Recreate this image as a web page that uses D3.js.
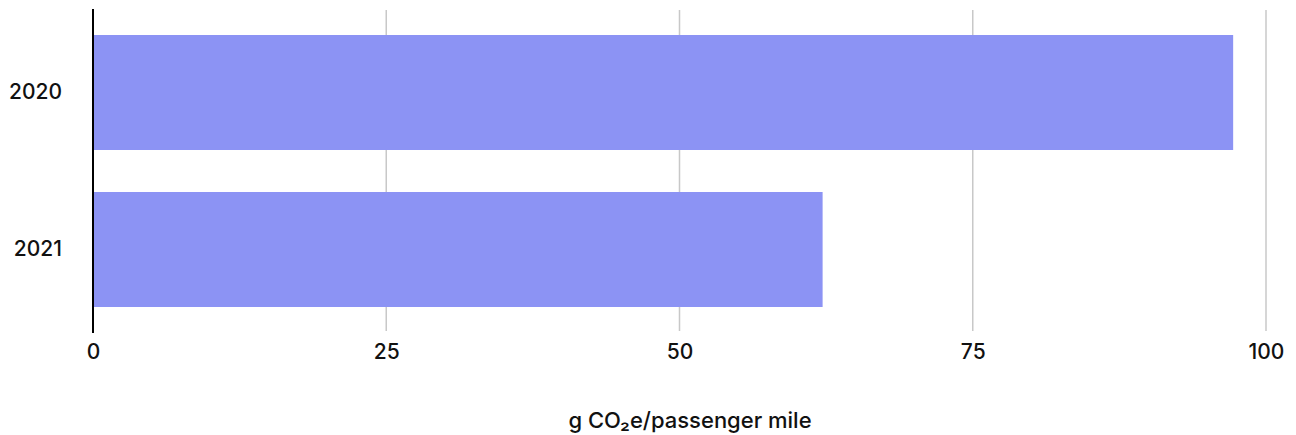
<!DOCTYPE html>
<html>
<head>
<meta charset="utf-8">
<script src="https://cdn.jsdelivr.net/npm/d3@7"></script>
<style>
  html, body { margin: 0; padding: 0; background: #fff; }
  svg { display: block; }
  text { font-family: Inter, "Noto Sans", sans-serif; fill: #111; font-weight: 500; }
</style>
</head>
<body>
<svg id="chart" width="1296" height="435"></svg>
<script>
// Emissions intensity per year
const years = ["2020", "2021"];
const emissions = [97.2, 62.2];
const xTicks = [0, 25, 50, 75, 100];
const axisTitle = "g CO₂e/passenger mile";

const width = 1296, height = 435;
const svg = d3.select("#chart");

const x = d3.scaleLinear().domain([0, 100]).range([93, 1266]);
const y = d3.scaleBand()
  .domain(years)
  .range([14, 328])
  .paddingInner(0.2675)
  .paddingOuter(0.13375);

// vertical gridlines
svg.append("g")
  .selectAll("line")
  .data(xTicks.filter(d => d > 0))
  .join("line")
  .attr("x1", d => x(d)).attr("x2", d => x(d))
  .attr("y1", 10).attr("y2", 331)
  .attr("stroke", "#c8c8c8")
  .attr("stroke-width", 1.5);

// bars
svg.append("g")
  .selectAll("rect")
  .data(years.map((yr, i) => ({ yr, v: emissions[i] })))
  .join("rect")
  .attr("x", x(0))
  .attr("y", d => y(d.yr))
  .attr("width", d => x(d.v) - x(0))
  .attr("height", y.bandwidth())
  .attr("fill", "#8c93f4");

// baseline
svg.append("line")
  .attr("x1", x(0)).attr("x2", x(0))
  .attr("y1", 9).attr("y2", 333)
  .attr("stroke", "#000")
  .attr("stroke-width", 2);

// x tick labels
const xAxis = d3.axisBottom(x).tickValues(xTicks).tickSize(0).tickPadding(0);
const gx = svg.append("g").attr("transform", "translate(0,352)").call(xAxis);
gx.select(".domain").remove();
gx.selectAll("text")
  .attr("dy", "0.35em")
  .attr("y", 0)
  .style("font-size", "21px")
  .style("font-weight", "500")
  .style("font-family", "Inter, 'Noto Sans', sans-serif")
  .attr("fill", "#111");

// y category labels
const yAxis = d3.axisLeft(y).tickSize(0).tickPadding(0);
const gy = svg.append("g").attr("transform", "translate(62,0)").call(yAxis);
gy.select(".domain").remove();
gy.selectAll("text")
  .style("font-size", "21px")
  .style("font-weight", "500")
  .style("font-family", "Inter, 'Noto Sans', sans-serif")
  .attr("fill", "#111");

// axis title
svg.append("text")
  .attr("x", 690)
  .attr("y", 420)
  .attr("dy", "0.35em")
  .attr("text-anchor", "middle")
  .style("font-size", "22px")
  .text(axisTitle);
</script>
</body>
</html>
